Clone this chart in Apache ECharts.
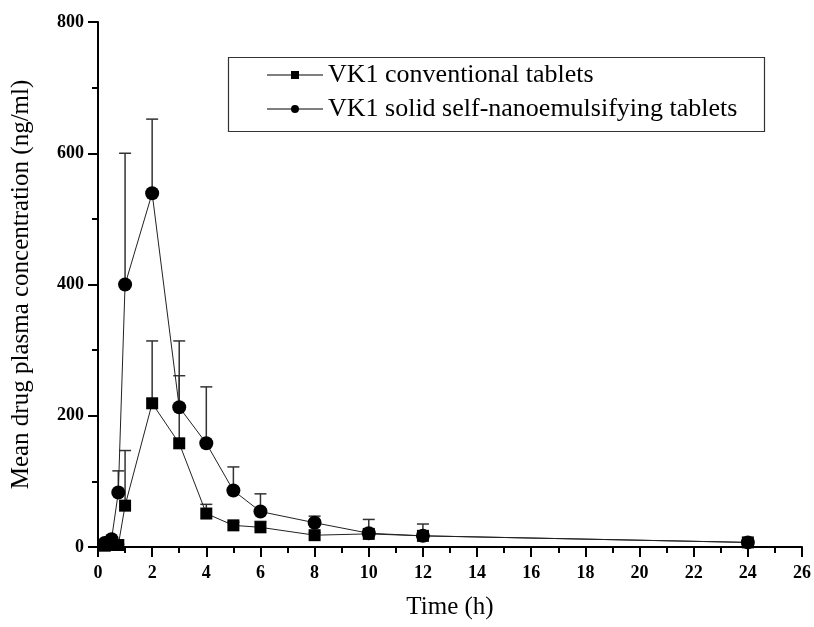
<!DOCTYPE html>
<html>
<head>
<meta charset="utf-8">
<script src="https://cdn.jsdelivr.net/npm/echarts@6/dist/echarts.min.js"></script>
<style>
  html, body { margin: 0; padding: 0; background: #fff; }
  #chart { width: 814px; height: 627px; }
</style>
</head>
<body>
<div id="chart"></div>
<script>
// Sampling times (h)
const timePoints = [0.25, 0.5, 0.75, 1, 2, 3, 4, 5, 6, 8, 10, 12, 24];

// VK1 conventional tablets: mean and SD (ng/ml)
const conventionalMean = [2, 3, 3, 63, 219, 158, 51, 33, 30, 18, 20, 17, 7];
const conventionalSD   = [1, 1, 1, 84, 95, 103, 14, 5, 9, 4, 6, 5, 2];

// VK1 solid self-nanoemulsifying tablets: mean and SD (ng/ml)
const snedsMean = [6, 12, 83, 400, 539, 213, 158, 86, 54, 37, 21, 17, 7];
const snedsSD   = [2, 3, 33, 200, 113, 101, 86, 36, 27, 10, 21, 18, 3];

const seriesNames = ['VK1 conventional tablets', 'VK1 solid self-nanoemulsifying tablets'];

const FONT = '"Liberation Serif", "Times New Roman", serif';

function pairs(means) {
  return timePoints.map((t, i) => [t, means[i]]);
}
function errorData(means, sds) {
  return timePoints.map((t, i) => [t, means[i], means[i] + sds[i]]);
}

// Upper error bar with a T cap
function renderErrorBar(params, api) {
  const x = api.value(0);
  const top = api.coord([x, api.value(2)]);
  const base = api.coord([x, api.value(1)]);
  const capHalf = 6;
  const style = { stroke: '#333', lineWidth: 1.5 };
  return {
    type: 'group',
    children: [
      { type: 'line', shape: { x1: top[0], y1: base[1], x2: top[0], y2: top[1] }, style: style },
      { type: 'line', shape: { x1: top[0] - capHalf, y1: top[1], x2: top[0] + capHalf, y2: top[1] }, style: style }
    ]
  };
}

const squareIcon = 'path://M0 3.5H56V4.5H0Z M24 0H32V8H24Z';
const circleIcon = 'path://M0 3.5H56V4.5H0Z M32 4A4 4 0 1 1 24 4A4 4 0 1 1 32 4Z';

const chart = echarts.init(document.getElementById('chart'));
chart.setOption({
  animation: false,
  backgroundColor: '#fff',
  textStyle: { fontFamily: FONT, color: '#000' },
  grid: { left: 98, right: 8, top: 22, bottom: 80, containLabel: false },
  graphic: [{
    type: 'rect',
    left: 226, top: 55,
    shape: { width: 536, height: 74 },
    style: { fill: 'none', stroke: '#333', lineWidth: 1.2 },
    z: 10
  }],
  legend: {
    orient: 'vertical',
    left: 267, top: 62,
    itemWidth: 56, itemHeight: 8,
    itemGap: 8,
    padding: 0,
    textStyle: { fontFamily: FONT, fontSize: 26, color: '#000', lineHeight: 26 },
    data: [
      { name: seriesNames[0], icon: squareIcon },
      { name: seriesNames[1], icon: circleIcon }
    ]
  },
  xAxis: {
    type: 'value',
    min: 0, max: 26, interval: 2,
    name: 'Time (h)',
    nameLocation: 'middle',
    nameGap: 48,
    nameTextStyle: { fontFamily: FONT, fontSize: 25, color: '#000' },
    axisLine: { lineStyle: { color: '#000', width: 2 } },
    axisTick: { inside: false, length: 10, lineStyle: { color: '#000', width: 2 } },
    minorTick: { show: true, splitNumber: 2, length: 6, lineStyle: { color: '#000', width: 2 } },
    axisLabel: { fontFamily: FONT, fontSize: 18, fontWeight: 'bold', color: '#000', margin: 17 },
    splitLine: { show: false }
  },
  yAxis: {
    type: 'value',
    min: 0, max: 800, interval: 200,
    name: 'Mean drug plasma concentration (ng/ml)',
    nameLocation: 'middle',
    nameGap: 64,
    nameTextStyle: { fontFamily: FONT, fontSize: 25, color: '#000' },
    axisLine: { show: true, lineStyle: { color: '#000', width: 2 } },
    axisTick: { show: true, inside: false, length: 10, lineStyle: { color: '#000', width: 2 } },
    minorTick: { show: true, splitNumber: 2, length: 6, lineStyle: { color: '#000', width: 2 } },
    axisLabel: { fontFamily: FONT, fontSize: 18, fontWeight: 'bold', color: '#000', margin: 14 },
    splitLine: { show: false }
  },
  series: [
    {
      type: 'custom',
      name: seriesNames[0] + ' SD',
      renderItem: renderErrorBar,
      data: errorData(conventionalMean, conventionalSD),
      encode: { x: 0, y: [1, 2] },
      z: 1, silent: true
    },
    {
      type: 'custom',
      name: seriesNames[1] + ' SD',
      renderItem: renderErrorBar,
      data: errorData(snedsMean, snedsSD),
      encode: { x: 0, y: [1, 2] },
      z: 1, silent: true
    },
    {
      type: 'line',
      name: seriesNames[0],
      data: pairs(conventionalMean),
      symbol: 'rect',
      symbolSize: 12,
      showAllSymbol: true,
      itemStyle: { color: '#000' },
      lineStyle: { color: '#222', width: 1 },
      z: 3
    },
    {
      type: 'line',
      name: seriesNames[1],
      data: pairs(snedsMean),
      symbol: 'circle',
      symbolSize: 14,
      showAllSymbol: true,
      itemStyle: { color: '#000' },
      lineStyle: { color: '#222', width: 1 },
      z: 4
    }
  ]
});
</script>
</body>
</html>
